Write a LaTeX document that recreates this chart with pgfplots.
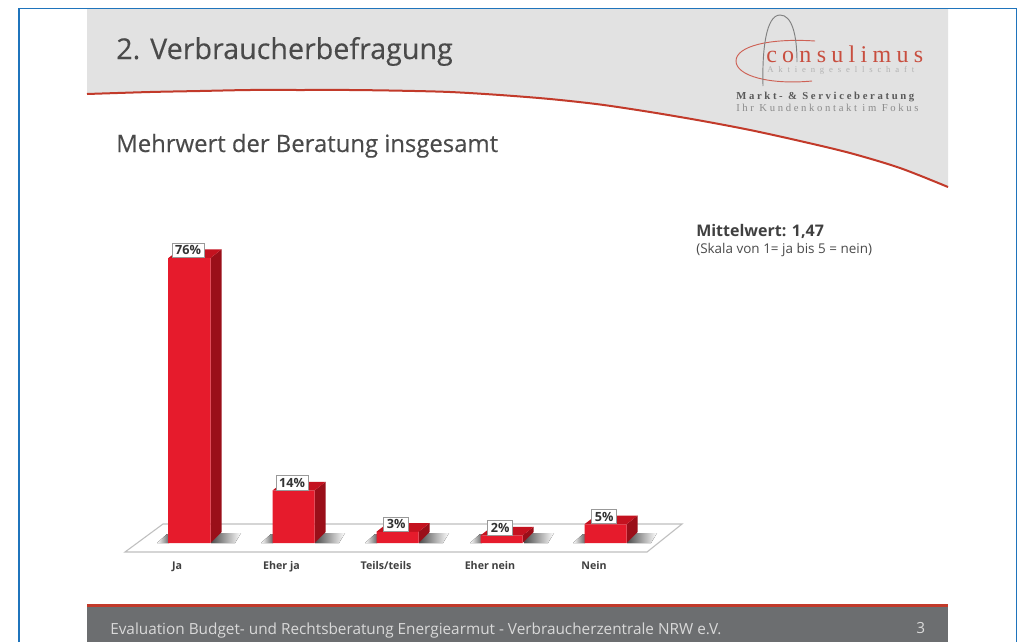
\documentclass[border=0pt]{standalone}
\usepackage{fontspec}
\setmainfont{Open Sans}
\newfontfamily\headfont[FakeBold=0.25]{Open Sans}
\newfontfamily\logofont[LetterSpace=22]{Liberation Serif}
\newfontfamily\logosmall[LetterSpace=56]{Liberation Serif}
\newfontfamily\logomid[LetterSpace=25]{Liberation Serif}
\usepackage{pgfplots}
\pgfplotsset{compat=1.18}
\definecolor{hdr}{HTML}{E2E2E2}
\definecolor{ftr}{HTML}{6C6E70}
\definecolor{rline}{HTML}{C23A2A}
\definecolor{bord}{HTML}{1F74BC}
\definecolor{barred}{HTML}{F21C2E}
\definecolor{barside}{HTML}{9A0F19}
\definecolor{bartop}{HTML}{C4121F}
\definecolor{txt}{HTML}{4A4A4A}
\pgfplotsset{page/.style={width=764.25pt,height=481.5pt,scale only axis,at={(0,0)},anchor=south west,clip=false}}
\begin{document}
\begin{tikzpicture}
% --- slide background, in pixel coordinates
\begin{axis}[page,hide axis,xmin=0,xmax=1019,ymin=0,ymax=642,y dir=reverse]
\fill[white] (0,0) rectangle (1019,642);
\draw[bord,line width=1pt] (19,642) -- (19,8.5) -- (1016.5,8.5) -- (1016.5,642);
\addplot[fill=hdr,draw=none] coordinates {(87,9)(948,9)(948,187)(900,168)(850,153)(800,141)(750,130)(700,120.5)(650,112)(600,104.5)(550,99)(500,95)(450,92)(400,90.7)(350,90)(300,90)(250,90)(200,91)(150,92)(87,94)} -- cycle;
\addplot[smooth,rline,line width=1.5pt] coordinates {(87,94)(150,92)(200,91)(250,90)(300,90)(350,90)(400,90.7)(450,92)(500,95)(550,99)(600,104.5)(650,112)(700,120.5)(750,130)(800,141)(850,153)(900,168)(948,187)};
\node[anchor=base west,font=\headfont\fontsize{21.5}{24}\selectfont,text=txt,inner sep=0pt] at (116,59) {2. Verbraucherbefragung};
\node[anchor=base west,font=\headfont\fontsize{17.9}{20}\selectfont,text=txt,inner sep=0pt] at (116,152) {Mehrwert der Beratung insgesamt};
% logo
\draw[rline!80,line width=.7pt] (815,41) .. controls (770,38) and (736,46) .. (736,61) .. controls (736,76) and (770,85) .. (812,81);
\draw[gray,line width=.7pt] (763,86) .. controls (762,50) and (766,15) .. (780,15) .. controls (792,15) and (797,35) .. (797,62);
\node[anchor=base west,font=\logofont\fontsize{18}{20}\selectfont,text=rline!90,inner sep=0pt] at (766,62) {consulimus};
\node[anchor=base west,font=\logosmall\fontsize{6.5}{8}\selectfont,text=gray!60,inner sep=0pt] at (767,72) {Aktiengesellschaft};
\node[anchor=base west,font=\logomid\bfseries\fontsize{8}{10}\selectfont,text=black!65,inner sep=0pt] at (736,99) {Markt- \& Serviceberatung};
\node[anchor=base west,font=\logomid\fontsize{8}{10}\selectfont,text=gray!90,inner sep=0pt] at (736,111) {Ihr Kundenkontakt im Fokus};
% note
\node[anchor=base west,font=\bfseries\fontsize{12}{14}\selectfont,text=black!75,inner sep=0pt] at (696,236) {Mittelwert: 1,47};
\node[anchor=base west,font=\fontsize{10.1}{12}\selectfont,text=txt,inner sep=0pt] at (696,253) {(Skala von 1= ja bis 5 = nein)};
% footer
\fill[ftr] (87,604) rectangle (948,642);
\fill[rline] (87,604) rectangle (948,607);
\node[anchor=base west,font=\fontsize{11.5}{14}\selectfont,text=black!15,inner sep=0pt] at (110,634) {Evaluation Budget- und Rechtsberatung Energiearmut - Verbraucherzentrale NRW e.V.};
\node[anchor=base west,font=\fontsize{11.5}{14}\selectfont,text=black!15,inner sep=0pt] at (916,633) {3};
% floor
\draw[black!25,fill=white,line width=.8pt] (125,552) -- (163,524) -- (682,524) -- (647,552) -- cycle;
% floor shadows
\foreach \x in {169,273,377,482,585}{
  \pgfmathsetmacro{\a}{\x-12}\pgfmathsetmacro{\b}{\x+42}\pgfmathsetmacro{\c}{\x+66}
  \pgfmathsetmacro{\d}{\x-2}\pgfmathsetmacro{\e}{\x+72}
  \edef\tmp{\noexpand\fill[left color=white,right color=black!60] (\a,543) -- (\d,534) -- (\x,534) -- (\x,543) -- cycle;
  \noexpand\fill[left color=black!70,right color=white] (\b,543) -- (\b,533) -- (\e,533) -- (\c,543) -- cycle;}
  \tmp
}
\end{axis}
% --- the data
\begin{axis}[page,
  xmin=0,xmax=1019,ymin=-26.4,ymax=144.8,
  axis line style={draw=none},major tick length=0pt,
  ytick=\empty,
  xtick={177,281.5,386,490,594},
  xticklabels={Ja,Eher ja,Teils/teils,Eher nein,Nein},
  x tick label style={font=\bfseries\fontsize{8}{10}\selectfont,text=black!75,anchor=base,yshift=54.3pt,inner sep=0pt},
  xtick pos=bottom]
% depth faces
\addplot[fill=barside,draw=none] coordinates {(210.5,0)(221.5,2.9)(221.5,78.3)(210.5,76)} -- cycle;
\addplot[fill=bartop,draw=none] coordinates {(168.5,76)(179.5,78.3)(221.5,78.3)(210.5,76)} -- cycle;
\addplot[fill=barside,draw=none] coordinates {(314.5,0)(325.5,2.9)(325.5,16.3)(314.5,14)} -- cycle;
\addplot[fill=bartop,draw=none] coordinates {(272.5,14)(283.5,16.3)(325.5,16.3)(314.5,14)} -- cycle;
\addplot[fill=barside,draw=none] coordinates {(418.5,0)(429.5,2.9)(429.5,5.3)(418.5,3)} -- cycle;
\addplot[fill=bartop,draw=none] coordinates {(376.5,3)(387.5,5.3)(429.5,5.3)(418.5,3)} -- cycle;
\addplot[fill=barside,draw=none] coordinates {(522.5,0)(533.5,2.9)(533.5,4.3)(522.5,2)} -- cycle;
\addplot[fill=bartop,draw=none] coordinates {(480.5,2)(491.5,4.3)(533.5,4.3)(522.5,2)} -- cycle;
\addplot[fill=barside,draw=none] coordinates {(626.5,0)(637.5,2.9)(637.5,7.3)(626.5,5)} -- cycle;
\addplot[fill=bartop,draw=none] coordinates {(584.5,5)(595.5,7.3)(637.5,7.3)(626.5,5)} -- cycle;
% front faces
\addplot[ybar,bar width=42,bar shift=0pt,draw=none,left color=barred!95!black,middle color=barred,right color=barred!95!black,
  nodes near coords={\pgfmathprintnumber[assume math mode=true]{\pgfplotspointmeta}\%},
  every node near coord/.style={draw=black!40,fill=white,font=\bfseries\fontsize{9.5}{11}\selectfont,text=black!80,inner xsep=2.5pt,inner ysep=1.8pt,outer sep=0pt,line width=.5pt,anchor=south,yshift=0.5pt,xshift=-1pt}]
 coordinates {(189.5,76)(293.5,14)(397.5,3)(501.5,2)(605.5,5)};
\end{axis}
\end{tikzpicture}
\end{document}
